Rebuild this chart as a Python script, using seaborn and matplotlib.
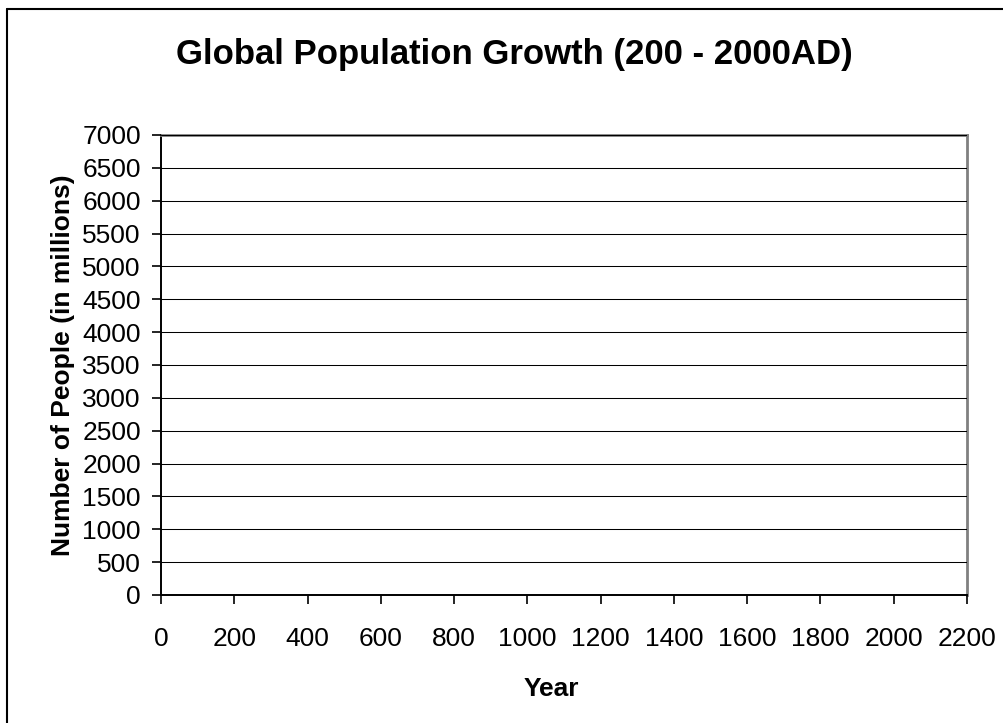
import matplotlib
matplotlib.use("Agg")
import matplotlib.pyplot as plt
from matplotlib.lines import Line2D
import seaborn as sns

# Chart content
title = "Global Population Growth (200 - 2000AD)"
x_label = "Year"
y_label = "Number of People (in millions)"
x_ticks = [0, 200, 400, 600, 800, 1000, 1200, 1400, 1600, 1800, 2000, 2200]
y_ticks = [0, 500, 1000, 1500, 2000, 2500, 3000, 3500, 4000, 4500, 5000, 5500, 6000, 6500, 7000]

# Population series (no points plotted)
years = []
population = []

sns.set_theme(style="white")
plt.rcParams["font.family"] = ["Liberation Sans", "DejaVu Sans"]

W, H = 1004, 723
fig = plt.figure(figsize=(W / 100, H / 100), dpi=100)
ax = fig.add_axes([161 / W, 1 - 595 / H, (967 - 161) / W, (595 - 135) / H])

sns.lineplot(x=years, y=population, ax=ax, color="black")

ax.set_xlim(x_ticks[0], x_ticks[-1])
ax.set_ylim(y_ticks[0], y_ticks[-1])
ax.set_xticks(x_ticks)
ax.set_yticks(y_ticks)
ax.set_xticklabels([str(v) for v in x_ticks], fontsize=19)
ax.set_yticklabels([str(v) for v in y_ticks], fontsize=19)

ax.grid(axis="y", color="black", linewidth=0.75)
ax.grid(axis="x", visible=False)
ax.set_axisbelow(False)

for side in ("left", "bottom"):
    ax.spines[side].set_color("black")
    ax.spines[side].set_linewidth(1.4)
for side in ("top", "right"):
    ax.spines[side].set_visible(True)
    ax.spines[side].set_color("#808080")
    ax.spines[side].set_linewidth(2.0)

ax.tick_params(axis="x", direction="out", length=6.5, width=1.2, color="black",
               bottom=True, pad=16.5, labelcolor="black")
ax.tick_params(axis="y", direction="out", length=6.5, width=1.2, color="black",
               left=True, pad=8, labelcolor="black")

ax.set_xlabel(x_label, fontsize=19, fontweight="bold", color="black")
ax.xaxis.set_label_coords((551 - 161) / 806, (595 - 677) / 460)
ax.set_ylabel(y_label, fontsize=19, fontweight="bold", color="black")
ax.yaxis.set_label_coords((75 - 161) / 806, (595 - 365) / 460)

fig.text(514 / W, 1 - 64 / H, title, fontsize=25, fontweight="bold",
         ha="center", va="baseline", color="black")

# Outer chart frame (left and top edges)
fig.add_artist(Line2D([7.5 / W, 7.5 / W], [0, 1 - 8.5 / H],
                      transform=fig.transFigure, color="black", linewidth=1.5))
fig.add_artist(Line2D([7.5 / W, 1], [1 - 8.5 / H, 1 - 8.5 / H],
                      transform=fig.transFigure, color="black", linewidth=1.5))

fig.savefig("out.png", dpi=100, facecolor="white")
